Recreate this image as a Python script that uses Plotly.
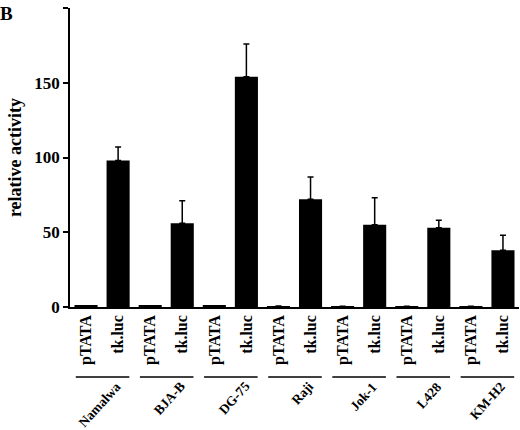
import plotly.graph_objects as go

cell_lines = ["Namalwa", "BJA-B", "DG-75", "Raji", "Jok-1", "L428", "KM-H2"]
constructs = ["pTATA", "tk.luc"]
ptata = [0.7, 0.7, 0.7, 0.6, 0.5, 0.5, 0.5]
tkluc = [98, 56, 154, 72, 55, 53, 38]
tkluc_err = [9, 15, 22, 15, 18, 5, 10]
yticks = [0, 50, 100, 150, 200]

FONT = "Liberation Serif, Times New Roman, serif"

# interleave pTATA / tk.luc per cell line
vals, errs, labels = [], [], []
for p, t, e in zip(ptata, tkluc, tkluc_err):
    vals += [p, t]
    errs += [0, e]
    labels += constructs
xpos = list(range(len(vals)))

fig = go.Figure(go.Bar(
    x=xpos, y=vals,
    marker=dict(color="black", line=dict(width=0)),
    error_y=dict(type="data", array=errs, symmetric=False, arrayminus=[0] * len(errs),
                 color="black", thickness=1.5, width=3),
))

shapes = []
annotations = []
for i, name in enumerate(cell_lines):
    shapes.append(dict(type="line", xref="x", yref="paper",
                       x0=2 * i - 0.32, x1=2 * i + 1.35, y0=-0.234, y1=-0.234,
                       line=dict(color="black", width=1.5)))
    annotations.append(dict(text=name, xref="x", yref="paper", x=2 * i + 1, y=-0.236,
                            xanchor="right", yanchor="top", xshift=7, textangle=-48,
                            showarrow=False, borderpad=0,
                            font=dict(family=FONT, size=13.5, color="black", weight="bold")))

annotations.append(dict(text="B", xref="paper", yref="paper", x=-0.16, y=1.0,
                        xanchor="left", yanchor="top", yshift=7, showarrow=False,
                        font=dict(family=FONT, size=19, color="black", weight="bold")))

fig.update_layout(
    width=520, height=430,
    margin=dict(l=70, r=1, t=8, b=123),
    plot_bgcolor="white", paper_bgcolor="white",
    showlegend=False, bargap=0.28,
    font=dict(family=FONT, color="black", weight="bold"),
    shapes=shapes, annotations=annotations,
)
fig.update_xaxes(range=[-0.5, len(vals) - 0.5], tickvals=xpos, ticktext=labels,
                 tickangle=-90, ticks="", showline=True, linecolor="black", linewidth=1.5,
                 showgrid=False, zeroline=False,
                 tickfont=dict(family=FONT, size=16, color="black", weight="bold"))
fig.update_yaxes(range=[0, 200], tickvals=yticks, ticks="outside", ticklen=5,
                 tickwidth=1.5, tickcolor="black", showline=True, linecolor="black",
                 linewidth=1.5, showgrid=False, zeroline=False,
                 title=dict(text="relative activity", standoff=8,
                            font=dict(family=FONT, size=18, color="black", weight="bold")),
                 tickfont=dict(family=FONT, size=17, color="black", weight="bold"))

# page body has a default 8px margin; drop it so the figure fills the window
fig.write_html("out.html", config={"displayModeBar": False},
               post_script="document.body.style.margin='0';")
